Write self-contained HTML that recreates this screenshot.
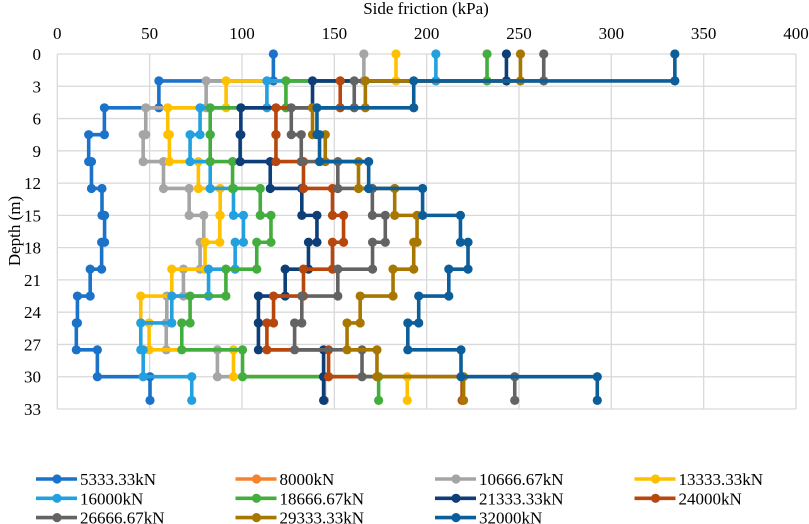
<!DOCTYPE html>
<html><head><meta charset="utf-8"><style>
html,body{margin:0;padding:0;background:#fff;}
svg{display:block;}
svg text{font-family:"Liberation Serif","DejaVu Serif",serif;}
</style></head><body>
<svg id="chart" width="809" height="524" viewBox="0 0 809 524" xmlns="http://www.w3.org/2000/svg" font-family="Liberation Serif, serif">
<text x="426" y="14" text-anchor="middle" font-size="17" fill="#000" font-family="Liberation Serif, serif">Side friction (kPa)</text>
<text transform="translate(20,231) rotate(-90)" text-anchor="middle" font-size="17" fill="#000" font-family="Liberation Serif, serif">Depth (m)</text>
<g id="grid"></g>
<g id="series"></g>
<g id="legend"></g>
</svg>
<script>
const xTicks = [0,50,100,150,200,250,300,350,400];
const yTicks = [0,3,6,9,12,15,18,21,24,27,30,33];
const depths = [0,2.5,5,7.5,10,12.5,15,17.5,20,22.5,25,27.5,30,32.2];
const seriesNames = ["5333.33kN","8000kN","10666.67kN","13333.33kN","16000kN","18666.67kN","21333.33kN","24000kN","26666.67kN","29333.33kN","32000kN"];
const seriesColors = ["#1a72c9","#f5822f","#a5a5a5","#ffc000","#22a0df","#43ad3e","#0e3e78","#b7470c","#636363","#a87700","#0b5e99"];
const s5333 = [117,55,25.5,17,18.5,24.2,25.6,24,17.8,10.9,10.3,21.7,50.2];
const s8000 = [];
const s10667 = [166,80.6,47.9,46.5,57.5,71.4,79.3,77.3,68.3,59.3,59,86.7,144.7];
const s13333 = [183.4,91.4,59.8,60.7,76.4,88.2,88,80,62,45.2,49.7,95.4,189.5];
const s16000 = [205,113.5,77.3,71.9,82.8,95.4,100.8,96.3,81.9,62,45.2,46.5,72.8];
const s18667 = [232.7,123.8,82.8,82.8,94.9,109.9,115.7,108,91.3,71.9,67.4,100.3,174];
const s21333 = [243.2,138.2,99.4,99,115.3,132.4,140.6,136,123.4,108.9,108.9,144.2,144.2];
const s24000 = [null,153.2,118.4,118.4,133.3,149,155,149,133.3,117.1,113.5,146.9,219.2];
const s26667 = [263.4,160.8,126.7,132.1,151.9,170.6,177.6,170.7,151.9,132.4,128.5,165,247.7];
const s29333 = [250.8,166.8,138.2,145.1,163.1,182.7,194.8,193,181.8,164,156.9,173.1,220];
const s32000 = [334.4,193,140.6,142,168.6,197.8,218.3,222.4,212,195.7,189.8,218.6,292.4];
const allSeries = [s5333,s8000,s10667,s13333,s16000,s18667,s21333,s24000,s26667,s29333,s32000];

const NS = "http://www.w3.org/2000/svg";
const X0 = 57.3, X1 = 796, Y0 = 54, Y1 = 409;
const FF = "Liberation Serif, serif";
function xs(v){ return X0 + (v/400)*(X1-X0); }
function ys(d){ return Y0 + (d/33)*(Y1-Y0); }
function mk(tag, attrs, parent){
  const el = document.createElementNS(NS, tag);
  for (const k in attrs) el.setAttribute(k, attrs[k]);
  parent.appendChild(el);
  return el;
}
const grid = document.getElementById('grid');
xTicks.forEach(t=>{
  const l = mk('line',{x1:xs(t),x2:xs(t),y1:Y0,y2:Y1,stroke:'#d9d9d9','stroke-width':1.3},grid);
  
  
  const tx = mk('text',{x:xs(t),y:39,'text-anchor':'middle','font-size':17,fill:'#000','font-family':FF},grid);
  tx.textContent = t;
  
  
});
yTicks.forEach(t=>{
  const l = mk('line',{x1:X0,x2:X1,y1:ys(t),y2:ys(t),stroke:'#d9d9d9','stroke-width':1.3},grid);
  
  
  const tx = mk('text',{x:41,y:ys(t)+6,'text-anchor':'end','font-size':17,fill:'#000','font-family':FF},grid);
  tx.textContent = t;
  
  
});
const sg = document.getElementById('series');
allSeries.forEach((vals,si)=>{
  const g = mk('g',{},sg);
  
  
  const pts = [];
  vals.forEach((v,i)=>{
    if (v===null || v===undefined) return;
    pts.push([xs(v),ys(depths[i])]);
    pts.push([xs(v),ys(depths[i+1])]);
  });
  if (!pts.length) return;
  const pl = mk('polyline',{points:pts.map(p=>p.join(',')).join(' '),fill:'none',stroke:seriesColors[si],'stroke-width':3.6,'stroke-linejoin':'round'},g);
  
  
  pts.forEach(p=>{
    const c = mk('circle',{cx:p[0],cy:p[1],r:4.6,fill:seriesColors[si]},g);
    
    
  });
});
const lg = document.getElementById('legend');
seriesNames.forEach((n,i)=>{
  const col = i%4, row = Math.floor(i/4);
  const lx = 36 + col*199.5, ly = 479 + row*19.3;
  const g = mk('g',{},lg);
  
  
  mk('line',{x1:lx,x2:lx+41,y1:ly,y2:ly,stroke:seriesColors[i],'stroke-width':3.6},g);
  mk('circle',{cx:lx+21,cy:ly,r:4.6,fill:seriesColors[i]},g);
  const t = mk('text',{x:lx+44,y:ly+6,'font-size':17,fill:'#000','font-family':FF},g);
  t.textContent = n;
});
</script>
</body></html>
